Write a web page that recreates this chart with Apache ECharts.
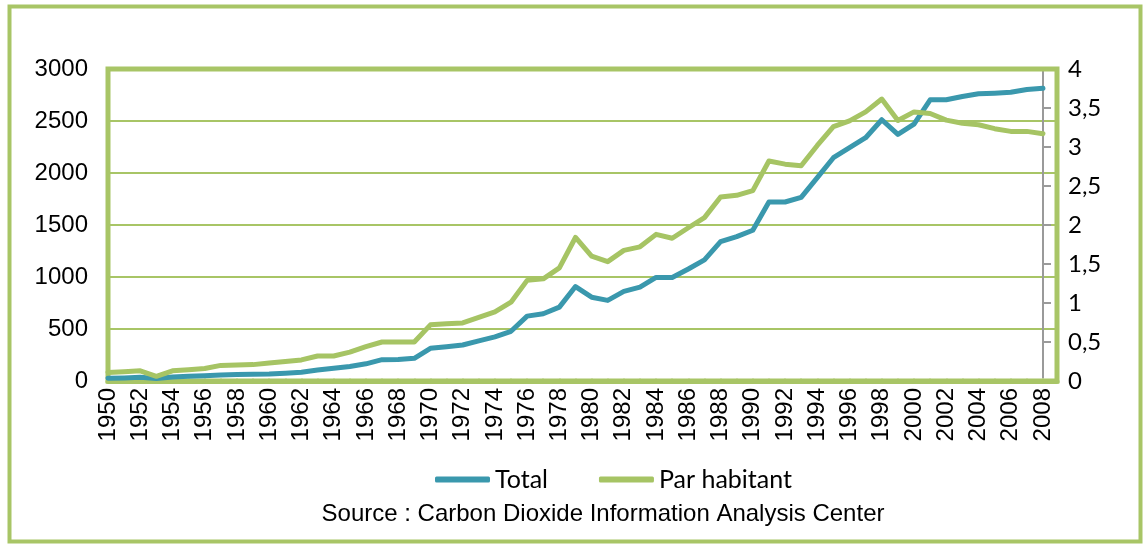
<!DOCTYPE html>
<html>
<head>
<meta charset="utf-8">
<script src="https://cdn.jsdelivr.net/npm/echarts@6/dist/echarts.min.js"></script>
<style>
html,body{margin:0;padding:0;background:#fff;}
#chart{width:1147px;height:545px;}
</style>
</head>
<body>
<div id="chart"></div>
<script>
var years = [];
for (var y = 1950; y <= 2008; y++) years.push(y);

var total = [26, 29, 35, 25, 38, 45, 50, 58, 62, 65,
  67, 75, 85, 105, 122, 140, 165, 205, 207, 218,
  314, 330, 346, 386, 425, 478, 624, 647, 710, 908,
  806, 775, 862, 902, 996, 996, 1077, 1165, 1340, 1388,
  1450, 1721, 1721, 1766, 1955, 2147, 2243, 2339, 2512, 2371,
  2470, 2704, 2704, 2736, 2762, 2768, 2777, 2803, 2816];

var parHabitant = [0.11, 0.12, 0.13, 0.06, 0.13, 0.145, 0.16, 0.20, 0.205, 0.21,
  0.23, 0.25, 0.27, 0.32, 0.32, 0.37, 0.44, 0.50, 0.50, 0.50,
  0.72, 0.735, 0.745, 0.815, 0.885, 1.01, 1.29, 1.31, 1.45, 1.84,
  1.60, 1.53, 1.675, 1.72, 1.88, 1.83, 1.965, 2.095, 2.36, 2.38,
  2.44, 2.82, 2.78, 2.76, 3.02, 3.26, 3.335, 3.45, 3.615, 3.34,
  3.45, 3.43, 3.345, 3.305, 3.285, 3.235, 3.20, 3.20, 3.17];

var seriesNames = ['Total', 'Par habitant'];
var leftTicks = {min: 0, max: 3000, interval: 500};
var rightTicks = {min: 0, max: 4, interval: 0.5};
var sourceText = 'Source : Carbon Dioxide Information Analysis Center';

var GREEN = '#A8C566';
var BLUE = '#3A98AD';
var LINEGREEN = '#A6C464';

function pairs(vals) {
  return years.map(function (yr, i) { return [yr, vals[i]]; });
}

var chart = echarts.init(document.getElementById('chart'), null, {renderer: 'canvas'});
chart.setOption({
  animation: false,
  backgroundColor: '#fff',
  grid: {left: 108, right: 90, top: 69, bottom: 164, containLabel: false},
  xAxis: {
    type: 'value',
    min: 1950,
    max: 2008.87,
    interval: 1,
    axisLine: {show: true, onZero: false, lineStyle: {color: GREEN, width: 5}},
    axisTick: {show: true, inside: true, length: 3, lineStyle: {color: '#DCE7C2', width: 1.5}},
    splitLine: {show: false},
    axisLabel: {
      rotate: 90, margin: 7, fontSize: 24, fontFamily: 'Liberation Sans', color: '#000',
      showMaxLabel: false,
      formatter: function (v) { return (Number.isInteger(v) && v % 2 === 0) ? String(v) : ''; }
    }
  },
  yAxis: [{
    type: 'value',
    min: leftTicks.min, max: leftTicks.max, interval: leftTicks.interval,
    axisLine: {show: true, lineStyle: {color: '#9A9A9A', width: 2}},
    axisTick: {show: false},
    splitLine: {show: true, lineStyle: {color: GREEN, width: 2}},
    axisLabel: {margin: 20, fontSize: 24, fontFamily: 'Liberation Sans', color: '#000',
      formatter: function (v) { return String(v); }}
  }, {
    type: 'value',
    position: 'right',
    offset: -14,
    min: rightTicks.min, max: rightTicks.max, interval: rightTicks.interval,
    axisLine: {show: true, lineStyle: {color: '#9A9A9A', width: 2}},
    axisTick: {show: true, inside: false, length: 8, lineStyle: {color: '#9A9A9A', width: 2}},
    splitLine: {show: false},
    axisLabel: {
      margin: 25, fontSize: 24, fontFamily: 'Lato', color: '#000',
      formatter: function (v) { return String(v).replace('.', ','); }
    }
  }],
  legend: {
    data: seriesNames,
    left: 435, top: 467, padding: 0,
    icon: 'roundRect',
    itemWidth: 55, itemHeight: 6, itemGap: 51,
    textStyle: {fontSize: 25, fontFamily: 'Lato', color: '#000'}
  },
  graphic: [{
    type: 'rect', z: 1, silent: true,
    shape: {x: 9.5, y: 6.5, width: 1131, height: 535},
    style: {fill: 'none', stroke: GREEN, lineWidth: 4}
  }, {
    type: 'rect', z: 1, silent: true,
    shape: {x: 108, y: 69, width: 949, height: 312},
    style: {fill: 'none', stroke: GREEN, lineWidth: 5}
  }, {
    type: 'text', z: 5, silent: true,
    x: 603, y: 514,
    style: {text: sourceText, fontSize: 24, fontFamily: 'Liberation Sans', fill: '#000',
      textAlign: 'center', textVerticalAlign: 'middle'}
  }],
  series: [{
    name: seriesNames[0], type: 'line', yAxisIndex: 0,
    data: pairs(total), showSymbol: false, symbol: 'none',
    lineStyle: {color: BLUE, width: 5, join: 'round', cap: 'round'},
    itemStyle: {color: BLUE}, z: 3
  }, {
    name: seriesNames[1], type: 'line', yAxisIndex: 1,
    data: pairs(parHabitant), showSymbol: false, symbol: 'none',
    lineStyle: {color: LINEGREEN, width: 5, join: 'round', cap: 'round'},
    itemStyle: {color: LINEGREEN}, z: 4
  }]
});
</script>
</body>
</html>
